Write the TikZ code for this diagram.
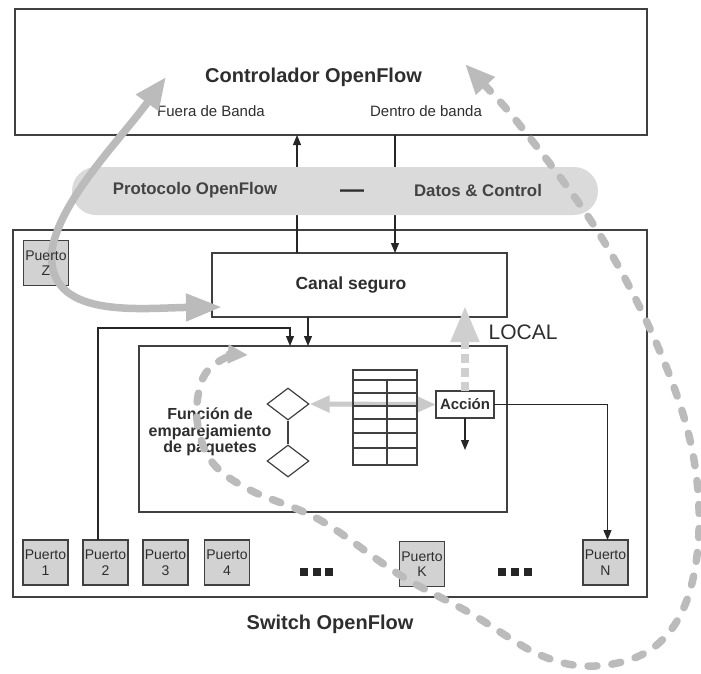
\documentclass[tikz,border=0pt]{standalone}
\usepackage{fontspec}
\setmainfont{Liberation Sans}
\usetikzlibrary{arrows.meta,calc,shapes.geometric}
\definecolor{ink}{HTML}{2E2E2E}
\definecolor{boxline}{HTML}{404040}
\definecolor{portfill}{HTML}{D2D2D2}
\definecolor{bandfill}{HTML}{DADADA}
\definecolor{flowgray}{HTML}{BBBBBB}
\definecolor{localgray}{HTML}{CFCFCF}
\definecolor{linkgray}{HTML}{CACACA}
\newcommand\setfs[2]{\fontsize{#1}{#2}\selectfont}
\begin{document}
\begin{tikzpicture}[x=1pt,y=-1pt,
  frame/.style={draw=boxline, line width=1.4pt, inner sep=0pt, outer sep=0pt},
  port/.style={frame, fill=portfill, minimum width=45pt, minimum height=45pt,
    align=center, text=ink, font=\setfs{14}{15.5}},
  porttext/.style={align=center, text=ink, font=\setfs{14}{15.5}},
  title/.style={text=ink, font=\bfseries\setfs{20}{22}},
  small/.style={text=ink, font=\setfs{15}{17}},
  bandtext/.style={text=ink!90, font=\bfseries\setfs{16.8}{19}},
  conn/.style={draw=black!85, line width=1.1pt},
  tip/.style={-{Triangle[length=10pt,width=8pt]}},
  tableline/.style={draw=boxline, line width=1.2pt}]
\useasboundingbox (0,0) rectangle (701,673);

% controller
\node[frame, minimum width=632pt, minimum height=126pt] (ctrl) at (331,72) {};
\node[title] (ctrltxt) at (313.5,77) {Controlador OpenFlow};
\node[small] (fuera) at (211,111) {Fuera de Banda};
\node[small] (dentro) at (426,111) {Dentro de banda};

% switch frame and secure channel
\node[frame, minimum width=634pt, minimum height=367pt] (switch) at (330,413.5) {};
\node[title] (swtxt) at (330,624) {Switch OpenFlow};
\node[frame, minimum width=295pt, minimum height=64pt] (canal) at (359.5,285) {};
\node[text=ink, font=\bfseries\setfs{17.5}{20}] (canaltxt) at (351,285) {Canal seguro};
\node[text=ink, font=\setfs{21}{24}] (local) at (523,332) {LOCAL};

% channel links to the controller
\coordinate (upx) at (297,0);
\coordinate (dnx) at (395,0);
\draw[conn, tip] (upx |- canal.north) -- (upx |- ctrl.south);
\draw[conn, tip] (dnx |- ctrl.south) -- (dnx |- canal.north);

% protocol band
\node[fill=bandfill, rounded corners=24pt, minimum width=526pt, minimum height=48pt,
  inner sep=0pt] (band) at (335,191) {};
\node[bandtext] (proto) at (195,190) {Protocolo OpenFlow};
\node[text=ink, font=\bfseries\setfs{24}{26}] (sep) at (352,194) {—};
\node[bandtext] (datos) at (478,190) {Datos \& Control};

% flow table area
\node[frame, minimum width=368pt, minimum height=166pt] (inner) at (323,429) {};
\node[text=ink, align=center, font=\bfseries\setfs{16}{16.5}] (fun) at (210,432)
  {Función de\\emparejamiento\\de paquetes};
\node[diamond, draw=boxline, line width=1.2pt, minimum width=42pt, minimum height=32pt,
  inner sep=0pt] (d1) at (288,404) {};
\node[diamond, draw=boxline, line width=1.2pt, minimum width=42pt, minimum height=32pt,
  inner sep=0pt] (d2) at (288,461) {};
\draw[draw=boxline, line width=1.2pt] (d1.south) -- (d2.north);
\node[frame, minimum width=58pt, minimum height=27pt, text=ink,
  font=\bfseries\setfs{15}{17}] (accion) at (465,404.5) {Acción};

% ports
\node[port] (pz) at (46,263) {};
\node[port] (p1) at (45.5,562.5) {Puerto\\1};
\node[port] (p2) at (105.5,562.5) {Puerto\\2};
\node[port] (p3) at (165.5,562.5) {Puerto\\3};
\node[port] (p4) at (227,562.5) {Puerto\\4};
\node[port] (pk) at (422,564) {Puerto\\K};
\node[port] (pn) at (605.5,562.5) {Puerto\\N};
\foreach \xx in {300,312.5,325,498,511,524}
  \fill[black!85] (\xx,568) rectangle ++(8,8);

% black connectors inside the switch
\coordinate (ax) at (308,0);
\draw[conn, tip] (ax |- canal.south) -- (ax |- inner.north);
\coordinate (bend) at (290,328);
\draw[conn, tip] ([xshift=-7.5pt]p2.north) |- (bend) -- (bend |- inner.north);
\draw[conn, tip] (accion.east) -| ([xshift=2pt]pn.north);
\coordinate (adn) at (465,450);
\draw[conn, tip] (accion.south) -- (adn);

% match <-> action link
\draw[linkgray, line width=5pt,
  {Triangle[length=20pt,width=16pt]}-{Triangle[length=20pt,width=16pt]}]
  (d1.east) -- (accion.west);

% flow table grid
\node[draw=boxline, line width=1.2pt, minimum width=64pt, minimum height=95pt,
  inner sep=0pt] (table) at (385,417.5) {};
\foreach \yy in {380,393,406,419,433,448}
  \draw[tableline] (table.west |- 0,\yy) -- (table.east |- 0,\yy);
\draw[tableline] (387,380) -- (table.south -| 387,0);

% LOCAL port towards the secure channel
\coordinate (lcl) at (465,306);
\draw[localgray, line width=8pt, dash pattern=on 9pt off 5pt,
  -{Triangle[length=36pt,width=27pt]}] (accion.north) -- (lcl);

% out-of-band path through port Z
\coordinate (zin) at (166,77);
\coordinate (zout) at (222,307);
\draw[flowgray, line width=7.5pt,
  {Triangle[length=32pt,width=26pt]}-{Triangle[length=36pt,width=26pt]}]
  (zin) .. controls (120,140) and (60,200) .. (52,250)
  .. controls (45,320) and (140,308) .. (zout);
\node[porttext] (pztxt) at (pz) {Puerto\\Z};

% in-band path through the data ports
\draw[flowgray, line width=7.5pt, line cap=round, dash pattern=on 9pt off 15pt,
  {Triangle[length=30pt,width=24pt]}-{Triangle[length=20pt,width=18pt]}]
  plot[smooth, tension=0.6] coordinates {
  (465,64) (530,138) (600,235) (655,340) (690,440) (699,530) (685,605)
  (650,650) (595,666) (540,655) (470,613) (400,575) (320,520) (250,490)
  (212,462) (197,420) (203,378) (225,358) (248,355)};
\end{tikzpicture}
\end{document}
